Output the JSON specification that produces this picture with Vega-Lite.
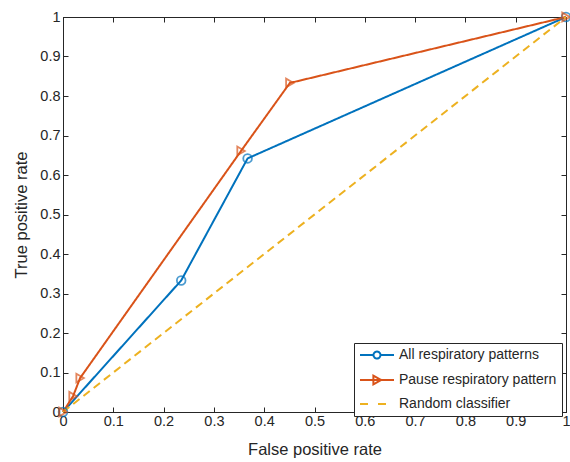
{
  "$schema": "https://vega.github.io/schema/vega-lite/v6.json",
  "autosize": "none",
  "width": 503,
  "height": 395,
  "padding": {"left": 63, "top": 17, "right": 4, "bottom": 50},
  "background": "white",
  "config": {
    "view": {"stroke": "#262626", "strokeWidth": 1},
    "font": "Liberation Sans",
    "axis": {
      "grid": false,
      "domainColor": "#262626",
      "tickColor": "#262626",
      "labelColor": "#262626",
      "titleColor": "#262626",
      "labelFont": "Liberation Sans",
      "titleFont": "Liberation Sans",
      "labelFontSize": 14.5,
      "titleFontSize": 16.5,
      "titleFontWeight": "normal",
      "tickSize": -5
    }
  },
  "data": {
    "values": [
      {"series": "All respiratory patterns", "fpr": 0, "tpr": 0},
      {"series": "All respiratory patterns", "fpr": 0.235, "tpr": 0.333},
      {"series": "All respiratory patterns", "fpr": 0.367, "tpr": 0.642},
      {"series": "All respiratory patterns", "fpr": 1, "tpr": 1},
      {"series": "Pause respiratory pattern", "fpr": 0, "tpr": 0},
      {"series": "Pause respiratory pattern", "fpr": 0.02, "tpr": 0.04},
      {"series": "Pause respiratory pattern", "fpr": 0.034, "tpr": 0.086},
      {"series": "Pause respiratory pattern", "fpr": 0.354, "tpr": 0.661},
      {"series": "Pause respiratory pattern", "fpr": 0.451, "tpr": 0.833},
      {"series": "Pause respiratory pattern", "fpr": 1, "tpr": 1},
      {"series": "Random classifier", "fpr": 0, "tpr": 0},
      {"series": "Random classifier", "fpr": 1, "tpr": 1}
    ]
  },
  "resolve": {"axis": {"x": "independent", "y": "independent"}},
  "layer": [
    {
      "mark": {"type": "line", "strokeWidth": 2, "clip": false},
      "encoding": {
        "x": {
          "field": "fpr", "type": "quantitative",
          "scale": {"domain": [0, 1], "nice": false, "zero": false},
          "axis": {"title": "False positive rate", "values": [0,0.1,0.2,0.3,0.4,0.5,0.6,0.7,0.8,0.9,1], "format": "~g", "labelFontSize": 14.5, "titleFontSize": 16.5, "labelPadding": 7, "titlePadding": 14, "labelFlush": false,
            "encode": {"labels": {"update": {"fontSize": {"value": 14.5}}}}}
        },
        "y": {
          "field": "tpr", "type": "quantitative",
          "scale": {"domain": [0, 1], "nice": false, "zero": false},
          "axis": {"title": "True positive rate", "values": [0,0.1,0.2,0.3,0.4,0.5,0.6,0.7,0.8,0.9,1], "format": "~g", "labelFontSize": 14.5, "titleFontSize": 16.5, "labelPadding": 8, "titlePadding": 10, "labelFlush": false,
            "encode": {"labels": {"update": {"fontSize": {"value": 14.5}}}}}
        },
        "color": {
          "field": "series", "type": "nominal",
          "scale": {"domain": ["All respiratory patterns", "Pause respiratory pattern", "Random classifier"], "range": ["#0072BD", "#D95319", "#EDB120"]},
          "legend": {
            "title": null,
            "orient": "none",
            "legendX": 291,
            "legendY": 326,
            "direction": "vertical",
            "strokeColor": "#262626",
            "fillColor": "white",
            "padding": 5,
            "symbolSize": 144,
            "symbolStrokeWidth": 2,
            "labelFont": "Liberation Sans",
            "labelFontSize": 14,
            "labelColor": "#262626",
            "rowPadding": 8,
            "labelOffset": 26,
            "symbolType": "stroke",
            "encode": {
              "symbols": {
                "update": {
                  "shape": {"signal": "datum.value == 'All respiratory patterns' ? 'M-1,0H1.25M2.41,0H4.67M2.41,0A0.58,0.58 0 1,1 1.25,0A0.58,0.58 0 1,1 2.41,0' : (datum.value == 'Pause respiratory pattern' ? 'M-1,0H4.67M1.23,-0.72L2.55,0L1.23,0.72Z' : 'M-1,0H0.5M2,0H3.4')"},
                  "strokeDash": {"value": []},
                  "fill": {"value": "transparent"}
                }
              }
            }
          }
        },
        "strokeDash": {
          "field": "series", "type": "nominal",
          "scale": {"domain": ["All respiratory patterns", "Pause respiratory pattern", "Random classifier"], "range": [[1, 0], [1, 0], [8, 5]]},
          "legend": null
        },
        "order": {"field": "fpr", "type": "quantitative"}
      }
    },
    {
      "transform": [{"filter": "datum.series != 'Random classifier'"}],
      "mark": {"type": "point", "filled": false, "strokeWidth": 1.8, "size": 75, "clip": false},
      "encoding": {
        "x": {
          "field": "fpr", "type": "quantitative",
          "axis": {"orient": "top", "title": null, "labels": false, "values": [0,0.1,0.2,0.3,0.4,0.5,0.6,0.7,0.8,0.9,1]}
        },
        "y": {
          "field": "tpr", "type": "quantitative",
          "axis": {"orient": "right", "title": null, "labels": false, "values": [0,0.1,0.2,0.3,0.4,0.5,0.6,0.7,0.8,0.9,1]}
        },
        "color": {"field": "series", "type": "nominal", "legend": null},
        "shape": {
          "field": "series", "type": "nominal",
          "scale": {"domain": ["All respiratory patterns", "Pause respiratory pattern"], "range": ["circle", "triangle-right"]},
          "legend": null
        }
      }
    }
  ]
}
